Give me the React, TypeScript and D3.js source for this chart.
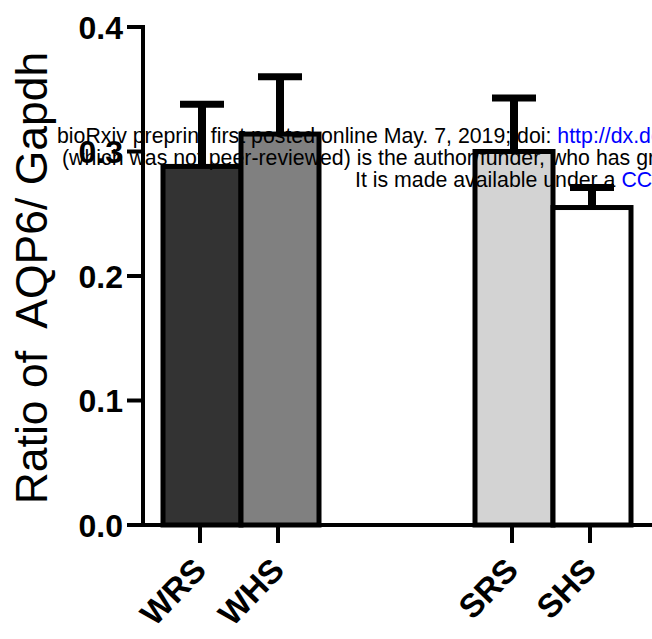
import React from 'react';
import * as d3 from 'd3';

// Group order on the x axis; the two empty slots separate the W and S groups.
const slots = ['WRS', 'WHS', 'spacerA', 'spacerB', 'SRS', 'SHS'];
const categories = ['WRS', 'WHS', 'SRS', 'SHS'];
const means = [0.288, 0.314, 0.3, 0.255];
const sems = [0.05, 0.046, 0.043, 0.016];
const barFills = ['#333333', '#808080', '#d3d3d3', '#ffffff'];
const yTicks = [0, 0.1, 0.2, 0.3, 0.4];
const yTitle = 'Ratio of\u00A0 AQP6/ Gapdh';

const W = 652;
const H = 639;
const FONT = '"Liberation Sans", Arial, Helvetica, sans-serif';

export default function App() {
  const x = d3.scaleBand<string>().domain(slots).range([163, 631]).padding(0);
  const y = d3.scaleLinear().domain([0, 0.4]).range([525, 27]);
  const axisX = 143;
  const fmt = d3.format('.1f');

  return (
    <svg
      width={W}
      height={H}
      viewBox={`0 0 ${W} ${H}`}
      style={{ position: 'absolute', left: 0, top: 0, background: '#fff' }}
    >
      <rect x={0} y={0} width={W} height={H} fill="#fff" />

      {/* bars */}
      {categories.map((c, i) => (
        <rect
          key={c}
          x={x(c)!}
          y={y(means[i])}
          width={x.bandwidth()}
          height={y(0) - y(means[i])}
          fill={barFills[i]}
          stroke="#000"
          strokeWidth={5}
        />
      ))}

      {/* upper error bars */}
      {categories.map((c, i) => {
        const cx = x(c)! + x.bandwidth() / 2;
        const top = y(means[i] + sems[i]);
        return (
          <g key={c + '-err'}>
            <line x1={cx} x2={cx} y1={y(means[i])} y2={top} stroke="#000" strokeWidth={8} />
            <line x1={cx - 22} x2={cx + 22} y1={top} y2={top} stroke="#000" strokeWidth={7} />
          </g>
        );
      })}

      {/* y axis */}
      <line x1={axisX} x2={axisX} y1={y(0.4) - 2} y2={y(0) + 2} stroke="#000" strokeWidth={4} />
      {yTicks.map((t) => (
        <g key={t}>
          <line x1={127} x2={axisX} y1={y(t)} y2={y(t)} stroke="#000" strokeWidth={4} />
          <text
            x={123}
            y={y(t)}
            dy="0.36em"
            textAnchor="end"
            fontFamily={FONT}
            fontWeight="bold"
            fontSize={32}
            fill="#000"
          >
            {fmt(t)}
          </text>
        </g>
      ))}

      {/* x axis */}
      <line x1={axisX - 2} x2={W + 20} y1={y(0)} y2={y(0)} stroke="#000" strokeWidth={4} />
      {categories.map((c) => {
        const cx = x(c)! + x.bandwidth() / 2 - 2;
        return (
          <g key={c + '-tick'}>
            <line x1={cx} x2={cx} y1={y(0)} y2={y(0) + 18} stroke="#000" strokeWidth={4} />
            <text
              transform={`translate(${cx + 8},572) rotate(-46)`}
              textAnchor="end"
              fontFamily={FONT}
              fontWeight="bold"
              fontSize={33}
              fill="#000"
            >
              {c}
            </text>
          </g>
        );
      })}

      {/* y axis title */}
      <text
        transform={`translate(47,278) rotate(-90)`}
        textAnchor="middle"
        fontFamily={FONT}
        fontSize={44.5}
        fill="#000"
        style={{ whiteSpace: 'pre' }}
      >
        {yTitle}
      </text>

      {/* preprint header lines */}
      <g fontFamily={FONT} fontSize={21.3} fill="#000">
        <text x={57} y={143}>
          bioRxiv preprint first posted online May. 7, 2019; doi:{' '}
          <tspan fill="#0000ff">http://dx.doi.org</tspan>
        </text>
        <text x={62} y={165}>
          (which was not peer-reviewed) is the author/funder, who has granted bioRxiv a license
        </text>
        <text x={355} y={187}>
          It is made available under a <tspan fill="#0000ff">CC-BY-NC-ND 4.0</tspan>
        </text>
      </g>
    </svg>
  );
}
